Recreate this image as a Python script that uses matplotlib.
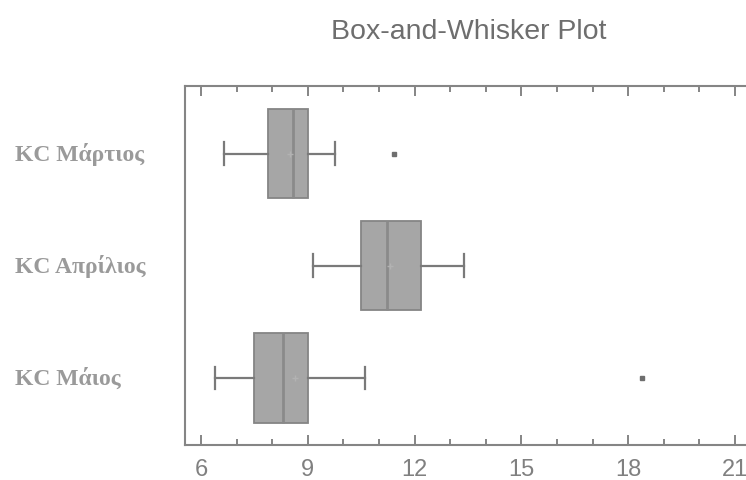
import matplotlib
matplotlib.use("Agg")
import matplotlib.pyplot as plt
from matplotlib.ticker import MultipleLocator
from matplotlib.transforms import blended_transform_factory

# box-plot summary values
categories = ["KC Μάρτιος", "KC Απρίλιος", "KC Μάιος"]
whislo = [6.65, 9.15, 6.38]
q1 = [7.89, 10.49, 7.49]
med = [8.59, 11.23, 8.29]
q3 = [8.99, 12.18, 9.01]
whishi = [9.76, 13.40, 10.61]
means = [8.50, 11.30, 8.64]
outliers = [[11.42], [], [18.40]]
xticks = [6, 9, 12, 15, 18, 21]

sans = ["Liberation Sans", "DejaVu Sans"]
serif = ["Liberation Serif", "DejaVu Serif"]
gray = "#858585"

fig = plt.figure(figsize=(7.46, 4.81), dpi=100)
ax = fig.add_axes([0.2476, 0.0728, 0.7524, 0.7457])

stats = []
for i in range(len(categories)):
    stats.append({"label": categories[i], "whislo": whislo[i], "q1": q1[i],
                  "med": med[i], "q3": q3[i], "whishi": whishi[i],
                  "mean": means[i], "fliers": outliers[i]})

pos = [2, 1, 0]
ax.bxp(stats, positions=pos, orientation="horizontal", widths=0.8,
       capwidths=0.2, patch_artist=True, showmeans=True,
       boxprops=dict(facecolor="#a6a6a6", edgecolor="#858585", linewidth=1.3),
       medianprops=dict(color="#8a8a8a", linewidth=2),
       whiskerprops=dict(color="#7a7a7a", linewidth=1.6),
       capprops=dict(color="#7a7a7a", linewidth=1.6),
       meanprops=dict(marker="+", markeredgecolor="#b2b2b2", markersize=5),
       flierprops=dict(marker="s", markersize=3, markerfacecolor="#6e6e6e",
                       markeredgecolor="#6e6e6e"))

ax.set_xlim(5.54, 21.31)
ax.set_ylim(-0.6, 2.6)
ax.set_yticks([])

ax.xaxis.set_major_locator(MultipleLocator(3))
ax.xaxis.set_minor_locator(MultipleLocator(1))
ax.set_xticks(xticks)
ax.tick_params(axis="x", which="both", direction="in", top=True,
               color=gray, width=1.4, pad=9.5)
ax.tick_params(axis="x", which="major", length=7, labelsize=17,
               labelcolor="#808080")
ax.tick_params(axis="x", which="minor", length=4.5)
for lab in ax.get_xticklabels():
    lab.set_family(sans)

for side in ["left", "top", "bottom"]:
    ax.spines[side].set_color(gray)
    ax.spines[side].set_linewidth(1.5)
ax.spines["right"].set_visible(False)

trans = blended_transform_factory(fig.transFigure, ax.transData)
for p, name in zip(pos, categories):
    ax.text(15 / 746, p, name, transform=trans, ha="left", va="center",
            fontsize=17, family=serif, fontweight="bold", color="#9a9a9a")

fig.text(469 / 746, 1 - 32 / 481, "Box-and-Whisker Plot", ha="center",
         va="center", fontsize=20.5, family=sans, color="#6e6e6e")

fig.savefig("out.png", dpi=100)
